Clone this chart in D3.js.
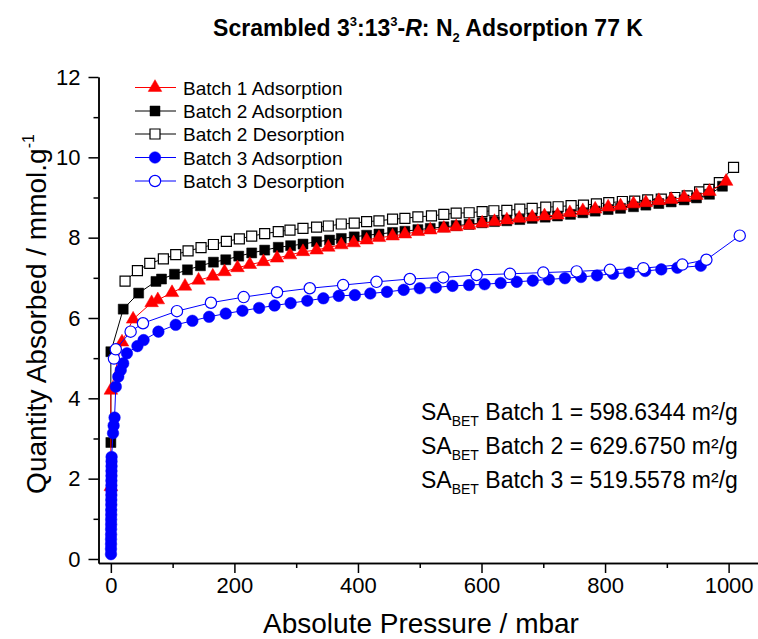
<!DOCTYPE html>
<html lang="en">
<head>
<meta charset="UTF-8">
<title>N2 Adsorption 77 K</title>
<script src="https://d3js.org/d3.v7.min.js"></script>
<style>
  body { margin: 0; background: #fff; }
  text { font-family: "Liberation Sans", Arial, sans-serif; fill: #000; }
</style>
</head>
<body>
<div id="chart"></div>
<script>
// Batch 1 adsorption (red triangles)
const b1AdsX = [0, 0, 18, 36, 66, 76, 99, 120, 142, 165, 184, 205, 225, 247, 269, 290, 311, 333, 352, 373, 393, 414, 434, 456, 476, 497, 517, 539, 559, 580, 601, 621, 641, 661, 682, 702, 723, 743, 764, 784, 805, 825, 846, 866, 887, 907, 928, 948, 969, 996];
const b1AdsY = [1.80, 4.20, 5.40, 5.97, 6.38, 6.45, 6.63, 6.79, 6.94, 7.04, 7.15, 7.25, 7.33, 7.40, 7.49, 7.57, 7.65, 7.69, 7.76, 7.82, 7.87, 7.94, 8.00, 8.04, 8.09, 8.15, 8.19, 8.23, 8.27, 8.31, 8.36, 8.40, 8.44, 8.48, 8.51, 8.54, 8.56, 8.62, 8.67, 8.71, 8.76, 8.79, 8.84, 8.87, 8.92, 8.95, 9.00, 9.05, 9.15, 9.40];

// Batch 2 adsorption (filled squares)
const b2AdsX = [0, 0, 20, 45, 73, 82, 103, 124, 145, 166, 186, 207, 228, 249, 271, 291, 311, 333, 354, 373, 394, 414, 434, 456, 476, 497, 517, 539, 559, 580, 601, 621, 641, 662, 682, 703, 723, 744, 764, 784, 805, 825, 846, 866, 887, 907, 928, 948, 969, 990];
const b2AdsY = [2.90, 5.16, 6.22, 6.62, 6.91, 6.97, 7.09, 7.20, 7.30, 7.39, 7.45, 7.54, 7.62, 7.69, 7.76, 7.80, 7.84, 7.90, 7.94, 7.98, 8.02, 8.06, 8.09, 8.13, 8.16, 8.20, 8.23, 8.27, 8.30, 8.33, 8.37, 8.40, 8.42, 8.45, 8.48, 8.51, 8.54, 8.58, 8.62, 8.66, 8.70, 8.73, 8.77, 8.81, 8.85, 8.89, 8.94, 8.99, 9.08, 9.28];

// Batch 2 desorption (open squares)
const b2DesX = [23, 43, 63, 85, 105, 125, 146, 166, 187, 208, 228, 249, 271, 290, 311, 333, 352, 373, 394, 414, 434, 456, 476, 497, 519, 539, 559, 580, 601, 620, 641, 662, 682, 704, 724, 745, 765, 786, 806, 828, 848, 869, 891, 913, 933, 953, 968, 985, 1008];
const b2DesY = [6.92, 7.18, 7.36, 7.47, 7.58, 7.67, 7.75, 7.83, 7.91, 7.97, 8.04, 8.10, 8.15, 8.19, 8.23, 8.26, 8.29, 8.34, 8.36, 8.40, 8.42, 8.46, 8.48, 8.52, 8.54, 8.58, 8.61, 8.62, 8.65, 8.67, 8.68, 8.71, 8.73, 8.76, 8.77, 8.80, 8.81, 8.84, 8.87, 8.90, 8.91, 8.94, 8.96, 9.00, 9.04, 9.14, 9.20, 9.37, 9.75];

// Batch 3 adsorption (filled circles)
const b3AdsX = [0.2, 0.2, 0.3, 0.3, 0.4, 0.4, 0.5, 0.5, 0.6, 0.6, 0.7, 0.7, 0.8, 0.8, 0.9, 0.9, 1.0, 1.0, 1.1, 1.1, 1.2, 3.5, 4.5, 6, 8, 12, 16, 20, 26, 43, 53, 77, 105, 132, 159, 186, 213, 240, 265, 291, 318, 344, 369, 395, 420, 447, 474, 500, 526, 553, 580, 605, 631, 657, 683, 709, 735, 761, 787, 813, 839, 865, 891, 917, 955];
const b3AdsY = [0.12, 0.25, 0.37, 0.49, 0.61, 0.74, 0.86, 0.98, 1.10, 1.22, 1.35, 1.47, 1.59, 1.71, 1.83, 1.95, 2.07, 2.19, 2.31, 2.43, 2.54, 3.13, 3.32, 3.52, 4.29, 4.54, 4.70, 4.87, 5.12, 5.30, 5.45, 5.66, 5.83, 5.93, 6.03, 6.11, 6.18, 6.25, 6.31, 6.37, 6.43, 6.49, 6.55, 6.57, 6.61, 6.65, 6.70, 6.74, 6.76, 6.80, 6.82, 6.84, 6.87, 6.90, 6.93, 6.96, 6.99, 7.02, 7.06, 7.10, 7.13, 7.17, 7.21, 7.25, 7.30];

// Batch 3 desorption (open circles)
const b3DesX = [5, 8, 32, 52, 107, 162, 215, 269, 322, 376, 430, 484, 538, 592, 646, 700, 754, 808, 862, 925, 964, 1018];
const b3DesY = [4.99, 5.22, 5.66, 5.87, 6.17, 6.38, 6.52, 6.64, 6.74, 6.82, 6.90, 6.97, 7.01, 7.07, 7.10, 7.13, 7.16, 7.20, 7.24, 7.33, 7.45, 8.05];

const xTicks = [0, 200, 400, 600, 800, 1000];
const yTicks = [0, 2, 4, 6, 8, 10, 12];
const legendNames = ["Batch 1 Adsorption", "Batch 2 Adsorption", "Batch 2 Desorption", "Batch 3 Adsorption", "Batch 3 Desorption"];
const betBatches = ["1", "2", "3"];
const betValues = ["598.6344", "629.6750", "519.5578"];

const W = 758, H = 639;
const svg = d3.select("#chart").append("svg")
    .attr("width", W).attr("height", H);

const x = d3.scaleLinear().domain([-20, 1050]).range([98.5, 759.5]);
const y = d3.scaleLinear().domain([-0.1, 12]).range([563, 77]);

// series, legend order
const series = [
    { name: legendNames[0], xs: b1AdsX, ys: b1AdsY, color: "#ff0000", sym: d3.symbolTriangle, size: 80, open: false },
    { name: legendNames[1], xs: b2AdsX, ys: b2AdsY, color: "#000000", sym: d3.symbolSquare, size: 100, open: false },
    { name: legendNames[2], xs: b2DesX, ys: b2DesY, color: "#000000", sym: d3.symbolSquare, size: 100, open: true },
    { name: legendNames[3], xs: b3AdsX, ys: b3AdsY, color: "#0000ff", sym: d3.symbolCircle, size: 105, open: false },
    { name: legendNames[4], xs: b3DesX, ys: b3DesY, color: "#0000ff", sym: d3.symbolCircle, size: 100, open: true }
];

const line = d3.line().x(d => x(d[0])).y(d => y(d[1]));

// draw order so red sits over black squares, blue on top
const drawOrder = [2, 1, 0, 3, 4];
drawOrder.forEach(i => {
    const s = series[i];
    const pts = s.xs.map((v, j) => [v, s.ys[j]]);
    const g = svg.append("g");
    g.append("path").datum(pts)
        .attr("d", line)
        .attr("fill", "none")
        .attr("stroke", s.color)
        .attr("stroke-width", 1);
    g.selectAll("path.pt").data(pts).enter().append("path")
        .attr("class", "pt")
        .attr("d", d3.symbol().type(s.sym).size(s.size))
        .attr("transform", d => `translate(${x(d[0])},${y(d[1])})`)
        .attr("fill", s.open ? "#fff" : s.color)
        .attr("stroke", s.color)
        .attr("stroke-width", s.open ? 1.2 : 0.5);
});

// axes
const xAxis = d3.axisBottom(x).tickValues(xTicks).tickFormat(d3.format("d")).tickSize(10).tickPadding(4).tickSizeOuter(0);
const xMinor = d3.axisBottom(x).tickValues([100, 300, 500, 700, 900]).tickSize(5).tickFormat("").tickSizeOuter(0);
const yAxis = d3.axisLeft(y).tickValues(yTicks).tickFormat(d3.format("d")).tickSize(10).tickPadding(8).tickSizeOuter(0);
const yMinor = d3.axisLeft(y).tickValues([1, 3, 5, 7, 9, 11]).tickSize(5).tickFormat("").tickSizeOuter(0);

function styleAxis(g) {
    g.select(".domain").attr("stroke", "#000").attr("stroke-width", 1.5);
    g.selectAll(".tick line").attr("stroke", "#000").attr("stroke-width", 1.5);
    g.selectAll(".tick text").attr("font-size", 22).attr("font-family", "Liberation Sans, Arial, sans-serif").attr("fill", "#000");
}
svg.append("g").attr("transform", "translate(0,563)").call(xMinor).call(styleAxis);
svg.append("g").attr("transform", "translate(0,563)").call(xAxis).call(styleAxis);
svg.append("g").attr("transform", "translate(98.5,0)").call(yMinor).call(styleAxis);
svg.append("g").attr("transform", "translate(98.5,0)").call(yAxis).call(styleAxis);

// axis titles
svg.append("text")
    .attr("x", 421).attr("y", 633)
    .attr("text-anchor", "middle")
    .attr("font-size", 28)
    .text("Absolute Pressure / mbar");

const yl = svg.append("text")
    .attr("transform", "translate(46,314) rotate(-90)")
    .attr("text-anchor", "middle")
    .attr("font-size", 28);
yl.append("tspan").text("Quantity Absorbed / mmol.g");
yl.append("tspan").attr("font-size", 16).attr("dy", -12).text("-1");

// title
const t = svg.append("text")
    .attr("x", 428).attr("y", 36)
    .attr("text-anchor", "middle")
    .attr("font-size", 23)
    .attr("font-weight", "bold")
    .style("font-family", "'Liberation Sans Narrow', 'Arial Narrow', 'Liberation Sans', sans-serif");
t.append("tspan").text("Scrambled 3");
t.append("tspan").attr("font-size", 13).attr("dy", -10).text("3");
t.append("tspan").attr("dy", 10).text(":13");
t.append("tspan").attr("font-size", 13).attr("dy", -10).text("3");
t.append("tspan").attr("dy", 10).text("-");
t.append("tspan").attr("font-style", "italic").text("R");
t.append("tspan").text(": N");
t.append("tspan").attr("font-size", 13).attr("dy", 6).text("2");
t.append("tspan").attr("dy", -6).text(" Adsorption 77 K");

// legend
const leg = svg.append("g");
const legY = [87.5, 111, 134, 157.5, 181];
series.forEach((s, i) => {
    const gy = legY[i];
    leg.append("line")
        .attr("x1", 135).attr("x2", 176).attr("y1", gy).attr("y2", gy)
        .attr("stroke", s.color).attr("stroke-width", 1);
    leg.append("path")
        .attr("d", d3.symbol().type(s.sym).size(s.size))
        .attr("transform", `translate(155,${gy})`)
        .attr("fill", s.open ? "#fff" : s.color)
        .attr("stroke", s.color)
        .attr("stroke-width", s.open ? 1.2 : 0.5);
    leg.append("text")
        .attr("x", 183).attr("y", gy + 7)
        .attr("font-size", 19)
        .text(s.name);
});

// BET annotations
const betY = [420, 454, 488];
betBatches.forEach((b, i) => {
    const tx = svg.append("text")
        .attr("x", 421).attr("y", betY[i])
        .attr("font-size", 23);
    tx.append("tspan").text("SA");
    tx.append("tspan").attr("font-size", 14).attr("dy", 6).text("BET");
    tx.append("tspan").attr("dy", -6).text(" Batch " + b + " = " + betValues[i] + " m²/g");
});
</script>
</body>
</html>
